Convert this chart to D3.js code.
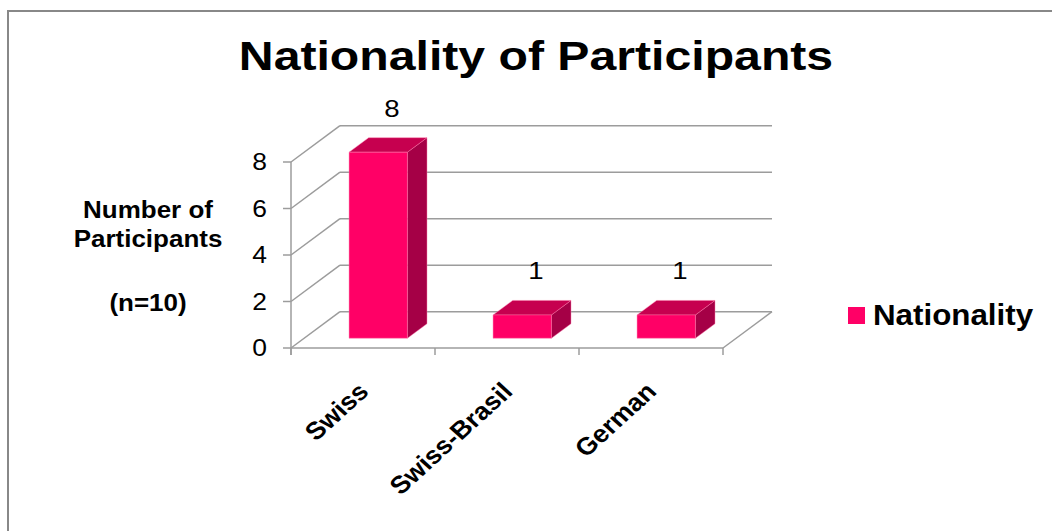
<!DOCTYPE html>
<html>
<head>
<meta charset="utf-8">
<script src="https://cdn.jsdelivr.net/npm/d3@7"></script>
<style>
  html, body { margin: 0; padding: 0; background: #fff; }
  svg { display: block; }
  text { font-family: "Liberation Sans", Arial, Helvetica, sans-serif; fill: #000; }
</style>
</head>
<body>
<svg id="chart" width="1052" height="531"></svg>
<script>
// Data
const categories = ["Swiss", "Swiss-Brasil", "German"];
const values = [8, 1, 1];
const yTicks = [0, 2, 4, 6, 8];
const seriesName = "Nationality";
const titleText = "Nationality of Participants";
const yTitleLines = ["Number of", "Participants"];
const yNote = "(n=10)";

const svg = d3.select("#chart");

// Outer chart frame (runs off the right and bottom edges)
svg.append("rect")
  .attr("x", 8).attr("y", 11).attr("width", 1100).attr("height", 600)
  .attr("fill", "none").attr("stroke", "#888").attr("stroke-width", 2);

// Front plane scales plus a depth offset for the pseudo-3D box
const x = d3.scaleBand().domain(categories).range([291, 723]);
const y = d3.scaleLinear().domain([0, 8]).range([348, 162]);
const DX = 49, DY = 36.3;
const f1 = 0.27, f2 = 0.67; // bar depth extent as a fraction of the box depth
const P = (px, py, f) => [px + f * DX, py - f * DY];

const gridColor = "#9c9c9c";
const grid = svg.append("g").attr("stroke", gridColor).attr("stroke-width", 1.5).attr("fill", "none");

// Back wall gridlines
grid.selectAll(".back").data(yTicks).join("line")
  .attr("x1", x.range()[0] + DX).attr("x2", x.range()[1] + DX)
  .attr("y1", d => y(d) - DY).attr("y2", d => y(d) - DY);

// Side wall diagonals
grid.selectAll(".side").data(yTicks).join("line")
  .attr("x1", x.range()[0]).attr("x2", x.range()[0] + DX)
  .attr("y1", d => y(d)).attr("y2", d => y(d) - DY);

// Floor: front edge and right edge
grid.append("line")
  .attr("x1", x.range()[0]).attr("x2", x.range()[1])
  .attr("y1", y(0)).attr("y2", y(0));
grid.append("line")
  .attr("x1", x.range()[1]).attr("x2", x.range()[1] + DX)
  .attr("y1", y(0)).attr("y2", y(0) - DY);

// Vertical axis line and ticks
grid.append("line")
  .attr("x1", x.range()[0]).attr("x2", x.range()[0])
  .attr("y1", y(8)).attr("y2", y(0) + 7);
grid.selectAll(".ytick").data(yTicks).join("line")
  .attr("x1", x.range()[0] - 8).attr("x2", x.range()[0])
  .attr("y1", d => y(d)).attr("y2", d => y(d));

// Category tick marks on the floor edge
const bounds = categories.map(c => x(c)).concat([x.range()[1]]);
grid.selectAll(".xtick").data(bounds).join("line")
  .attr("x1", d => d).attr("x2", d => d)
  .attr("y1", y(0)).attr("y2", y(0) + 7);

// Y tick labels
svg.selectAll(".ylab").data(yTicks).join("text")
  .attr("transform", d => `translate(267,${y(d) + 8}) scale(1.15,1)`)
  .attr("text-anchor", "end")
  .attr("font-size", 23)
  .text(d => d);

// Bars (front, top, side faces)
const bw = x.bandwidth() * 0.405;
const bars = svg.append("g");
categories.forEach((c, i) => {
  const v = values[i];
  const xl = x(c) + (x.bandwidth() - bw) / 2 + 2;
  const xr = xl + bw;
  const yt = y(v), yb = y(0);
  const g = bars.append("g").attr("stroke", "rgba(255,120,170,0.55)").attr("stroke-width", 0.8);
  const side = [P(xr, yt, f1), P(xr, yt, f2), P(xr, yb, f2), P(xr, yb, f1)];
  const top = [P(xl, yt, f1), P(xr, yt, f1), P(xr, yt, f2), P(xl, yt, f2)];
  const front = [P(xl, yt, f1), P(xr, yt, f1), P(xr, yb, f1), P(xl, yb, f1)];
  g.append("polygon").attr("points", side.join(" ")).attr("fill", "#a50046");
  g.append("polygon").attr("points", top.join(" ")).attr("fill", "#c6004f");
  g.append("polygon").attr("points", front.join(" ")).attr("fill", "#ff0066");

  // Value label above the bar's top face
  const [lx, ly] = P((xl + xr) / 2, yt, f2);
  svg.append("text")
    .attr("transform", `translate(${lx - 6},${ly - 21}) scale(1.15,1)`)
    .attr("text-anchor", "middle")
    .attr("font-size", 24)
    .text(v);
});

// Category labels, rotated
svg.selectAll(".xlab").data(categories).join("text")
  .attr("transform", d => `translate(${x(d) + x.bandwidth() / 2 + 7},393) scale(1.1,1) rotate(-45)`)
  .attr("text-anchor", "end")
  .attr("font-size", 24.5)
  .attr("font-weight", "bold")
  .text(d => d);

// Title
svg.append("text")
  .attr("transform", "translate(536,70) scale(1.19,1)")
  .attr("text-anchor", "middle")
  .attr("font-size", 40.5)
  .attr("font-weight", "bold")
  .text(titleText);

// Axis title
svg.selectAll(".ytitle").data(yTitleLines).join("text")
  .attr("transform", (d, i) => `translate(148,${218 + i * 28.5}) scale(1.13,1)`)
  .attr("text-anchor", "middle")
  .attr("font-size", 23)
  .attr("font-weight", "bold")
  .text(d => d);
svg.append("text")
  .attr("transform", "translate(148,311) scale(1.13,1)")
  .attr("text-anchor", "middle")
  .attr("font-size", 23)
  .attr("font-weight", "bold")
  .text(yNote);

// Legend
svg.append("rect")
  .attr("x", 848).attr("y", 307).attr("width", 17).attr("height", 17)
  .attr("fill", "#ff0066");
svg.append("text")
  .attr("transform", "translate(873,325) scale(1.08,1)")
  .attr("font-size", 29)
  .attr("font-weight", "bold")
  .text(seriesName);
</script>
</body>
</html>
